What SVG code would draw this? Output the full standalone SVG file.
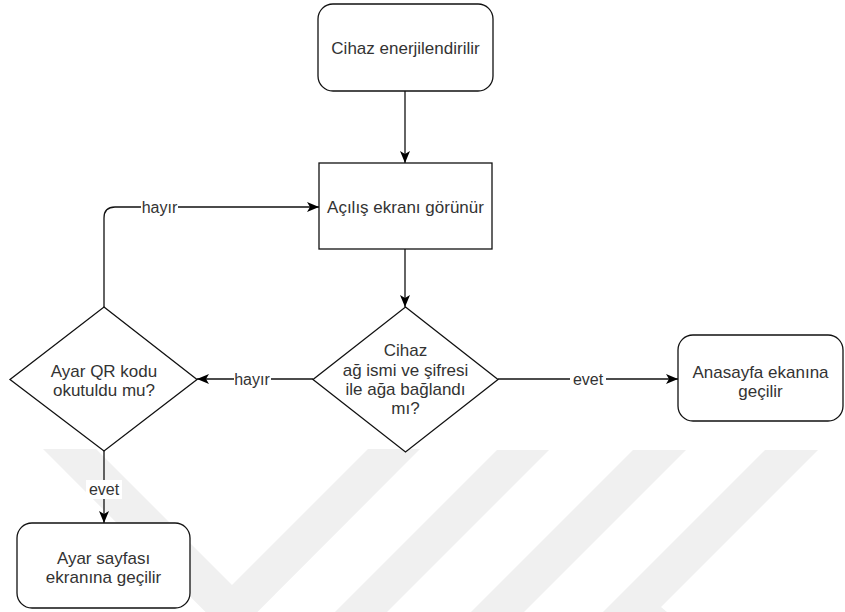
<svg xmlns="http://www.w3.org/2000/svg" width="845" height="612" viewBox="0 0 845 612">
  <defs>
    <marker id="arrow" viewBox="0 0 12 10" refX="12" refY="5" markerWidth="12" markerHeight="10" markerUnits="userSpaceOnUse" orient="auto">
      <path d="M0,0 L12,5 L0,10 L3,5 Z" fill="#000"/>
    </marker>
    <style>
      .node { fill: #fff; stroke: #111; stroke-width: 1.3; }
      .edge { fill: none; stroke: #111; stroke-width: 1.3; marker-end: url(#arrow); }
      .txt { font-family: "Liberation Sans", Arial, sans-serif; font-size: 17px; fill: #333; text-anchor: middle; }
      .lbl { font-family: "Liberation Sans", Arial, sans-serif; font-size: 16px; fill: #333; text-anchor: middle; }
      .lblbg { fill: #fff; }
      .mark { fill: #f0f0f0; }
    </style>
  </defs>

  <rect width="845" height="612" fill="#fff"/>

  <!-- faint background stripes -->
  <g id="background-stripes">
    <polygon class="mark" points="43,449 96,449 232,585 368,449 420,449 231.5,638"/>
    <polygon class="mark" points="497,450 549,450 387,612 335,612"/>
    <polygon class="mark" points="633,450 686,450 524,612 471,612"/>
    <polygon class="mark" points="765,450 818,450 661,607 667,612 603,612"/>
  </g>

  <!-- connectors -->
  <g id="connectors">
    <path class="edge" d="M405,91 V163"/>
    <path class="edge" d="M405,249 V307"/>
    <path class="edge" d="M498,379 H678"/>
    <path class="edge" d="M313,379 H197"/>
    <path class="edge" d="M104,307 V218 Q104,207 115,207 H319"/>
    <path class="edge" d="M104,451 V523"/>

    <rect class="lblbg" x="570" y="370" width="36" height="18"/>
    <text class="lbl" x="588" y="385">evet</text>
    <rect class="lblbg" x="234" y="370" width="37" height="18"/>
    <text class="lbl" x="252" y="385">hayır</text>
    <rect class="lblbg" x="141" y="198" width="37" height="18"/>
    <text class="lbl" x="159.5" y="213">hayır</text>
    <rect class="lblbg" x="86" y="480" width="36" height="19"/>
    <text class="lbl" x="104" y="495">evet</text>
  </g>

  <g id="start">
    <rect class="node" x="318" y="4" width="175" height="87" rx="15" ry="15"/>
    <text class="txt" x="405.5" y="54">Cihaz enerjilendirilir</text>
  </g>

  <g id="splash">
    <rect class="node" x="319" y="163" width="173" height="86"/>
    <text class="txt" x="405.5" y="213">Açılış ekranı görünür</text>
  </g>

  <g id="wifi-check">
    <polygon class="node" points="405.5,307 498,379.5 405.5,452 313,379.5"/>
    <text class="txt" x="405.5" y="356">Cihaz</text>
    <text class="txt" x="405.5" y="376">ağ ismi ve şifresi</text>
    <text class="txt" x="405.5" y="395">ile ağa bağlandı</text>
    <text class="txt" x="405.5" y="414">mı?</text>
  </g>

  <g id="qr-check">
    <polygon class="node" points="104,307 197,379.5 104,451 10,379.5"/>
    <text class="txt" x="104" y="377">Ayar QR kodu</text>
    <text class="txt" x="104" y="396">okutuldu mu?</text>
  </g>

  <g id="home">
    <rect class="node" x="678" y="335" width="165" height="86" rx="15" ry="15"/>
    <text class="txt" x="760.5" y="378">Anasayfa ekanına</text>
    <text class="txt" x="760.5" y="397">geçilir</text>
  </g>

  <g id="settings">
    <rect class="node" x="17" y="523" width="173" height="85" rx="15" ry="15"/>
    <text class="txt" x="103.5" y="564">Ayar sayfası</text>
    <text class="txt" x="103.5" y="583">ekranına geçilir</text>
  </g>
</svg>
